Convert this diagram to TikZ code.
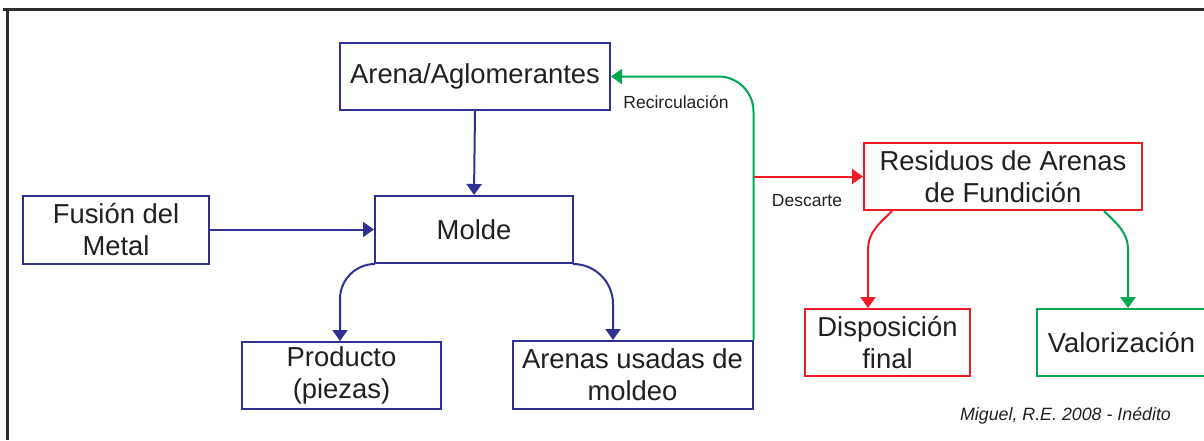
\documentclass[tikz,border=0pt]{standalone}
\usepackage{fontspec}
\setmainfont{Liberation Sans}
\usetikzlibrary{arrows.meta}
\definecolor{bblue}{RGB}{46,49,146}
\definecolor{rred}{RGB}{237,28,36}
\definecolor{ggreen}{RGB}{0,166,81}
\definecolor{txt}{RGB}{35,31,32}
\definecolor{framec}{RGB}{45,45,45}
\tikzset{
  box/.style={draw, line width=2pt, fill=white, rectangle, inner sep=0pt, align=center,
    text=txt, font=\fontsize{27.4}{32}\selectfont},
  bluebox/.style={box, draw=bblue},
  redbox/.style={box, draw=rred},
  greenbox/.style={box, draw=ggreen},
  conn/.style={line width=2pt, -{Triangle[width=15pt,length=11pt]}},
  lbl/.style={text=txt, font=\fontsize{17.5}{20}\selectfont, inner sep=0pt},
}
\begin{document}
\begin{tikzpicture}[x=1pt,y=-1pt]
\useasboundingbox (0,0) rectangle (1204,440);
% frame
\draw[framec, line width=2.5pt] (3,9.5) -- (1204,9.5);
\draw[framec, line width=2.5pt] (7.5,9.5) -- (7.5,440);

% nodes
\node[bluebox, minimum width=270pt, minimum height=67pt] (arena) at (475,76.5) {Arena/Aglomerantes};
\node[bluebox, minimum width=198pt, minimum height=67pt] (molde) at (474,229.5) {Molde};
\node[bluebox, minimum width=186pt, minimum height=68pt] (fusion) at (116,230) {Fusión del\\Metal};
\node[bluebox, minimum width=199pt, minimum height=67pt] (producto) at (341.5,375.5) {Producto\\(piezas)};
\node[bluebox, minimum width=240pt, minimum height=68pt] (usadas) at (632.5,375) {Arenas usadas de\\moldeo};
\node[redbox, minimum width=278pt, minimum height=67pt] (residuos) at (1003,176.5) {Residuos de Arenas\\de Fundición};
\node[redbox, minimum width=165pt, minimum height=67pt] (disp) at (887.5,342.5) {Disposición\\final};
\node[greenbox, minimum width=169pt, minimum height=67pt] (valor) at (1121.5,342.5) {Valorización};

% labels
\node[lbl] (recirc) at (676,102) {Recirculación};
\node[lbl] (desc) at (807,201) {Descarte};
\node[lbl, font=\itshape\fontsize{17.8}{20}\selectfont] (cita) at (1065.5,416) {Miguel, R.E. 2008 - Inédito};

% connectors
\draw[conn, bblue] (arena.south) -- (molde.north);
\draw[conn, bblue] (fusion.east |- molde.west) -- (molde.west);
\draw[conn, bblue, rounded corners=35pt] (molde.south west) -| ([xshift=-1.5pt]producto.north);
\draw[conn, bblue, rounded corners=40pt] (molde.south east) -| ([xshift=-19.5pt]usadas.north);
\draw[conn, ggreen, rounded corners=35pt] (usadas.north east) |- (arena.east);
\coordinate (dsplit) at (usadas.north east |- residuos.west);
\draw[conn, rred] (dsplit) -- (residuos.west);
\coordinate (rstart) at ([xshift=29pt]residuos.south west);
\coordinate (rbend) at ([xshift=-19.5pt,yshift=58pt]disp.north);
\draw[conn, rred] (rstart) to[out=225,in=90] (rbend) -- ([xshift=-19.5pt]disp.north);
\coordinate (gstart) at ([xshift=-39pt]residuos.south east);
\coordinate (gbend) at ([xshift=6.5pt,yshift=58pt]valor.north);
\draw[conn, ggreen] (gstart) to[out=-45,in=90] (gbend) -- ([xshift=6.5pt]valor.north);
\end{tikzpicture}
\end{document}
